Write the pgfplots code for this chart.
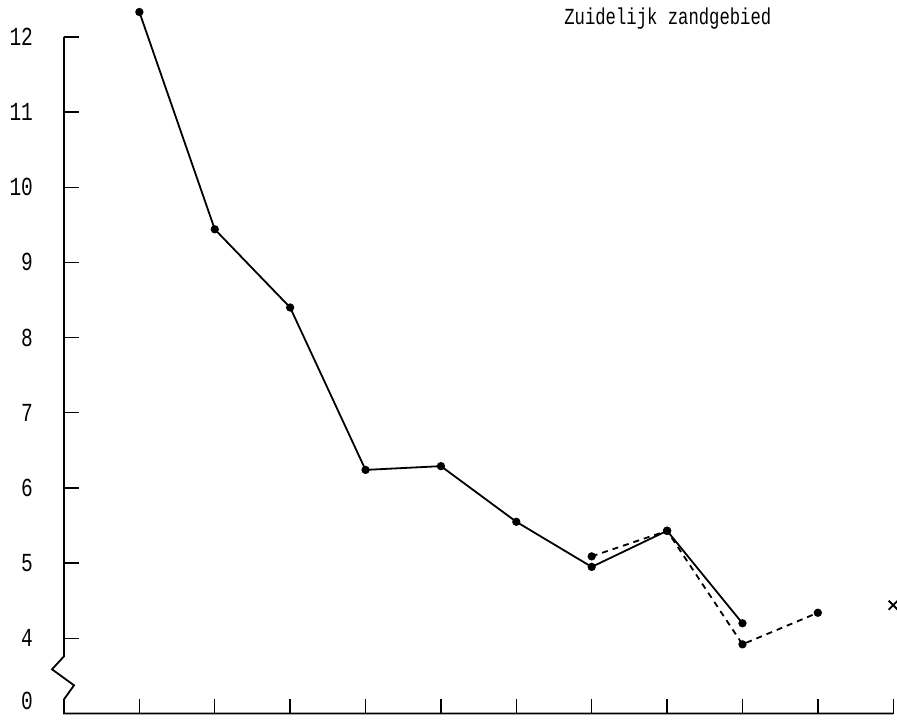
\documentclass[border=0pt]{standalone}
\usepackage{fontspec}
\setmainfont{Liberation Mono}[FakeStretch=0.75]
\usepackage{pgfplots}
\pgfplotsset{compat=1.18}

\begin{document}
\begin{tikzpicture}
  \begin{axis}[
      x=37.7pt, y=37.6pt,
      xmin=0, xmax=11,
      ymin=3, ymax=12,
      axis x line*=bottom,
      axis y line*=left,
      axis line style={draw=none},
      xtick={1,...,11},
      xticklabels={},
      ytick={4,...,12},
      extra y ticks={3.163},
      extra y tick labels={0},
      extra y tick style={major tick length=0pt},
      tick align=inside,
      major tick length=7.5pt,
      tick style={black, line width=0.7pt},
      yticklabel style={xshift=-12pt, font=\fontsize{13}{13}\selectfont},
      /pgf/number format/assume math mode=true,
      clip=false,
    ]
    % axes with the break in the vertical one
    \draw[line width=0.9pt] (axis cs:0,12) -- (axis cs:0,3.761) -- (axis cs:-0.159,3.588)
      -- (axis cs:0.133,3.375) -- (axis cs:0,3.189) -- (axis cs:0,3) -- (axis cs:11,3);

    \addplot[black, line width=0.9pt, mark=*, mark size=1.6pt] coordinates {
      (1,12.33) (2,9.44) (3,8.40) (4,6.24) (5,6.29) (6,5.55) (7,4.95) (8,5.43) (9,4.20)};
    \addplot[black, line width=0.9pt, dash pattern=on 3pt off 2.5pt, mark=*, mark size=1.6pt,
      mark options={solid}] coordinates {
      (7,5.09) (8,5.43) (9,3.92) (10,4.34)};
    \addplot[black, only marks, mark=x, mark size=3.2pt, line width=0.9pt] coordinates {(11,4.44)};

    \node[font=\fontsize{11.5}{11.5}\selectfont] at (axis cs:8.01,12.24) {Zuidelijk zandgebied};

    \coordinate (bl) at (axis cs:-0.849,2.91);
    \coordinate (tr) at (axis cs:11.05,12.49);
  \end{axis}
  \pgfresetboundingbox
  \path[use as bounding box] (bl) rectangle (tr);
\end{tikzpicture}
\end{document}
